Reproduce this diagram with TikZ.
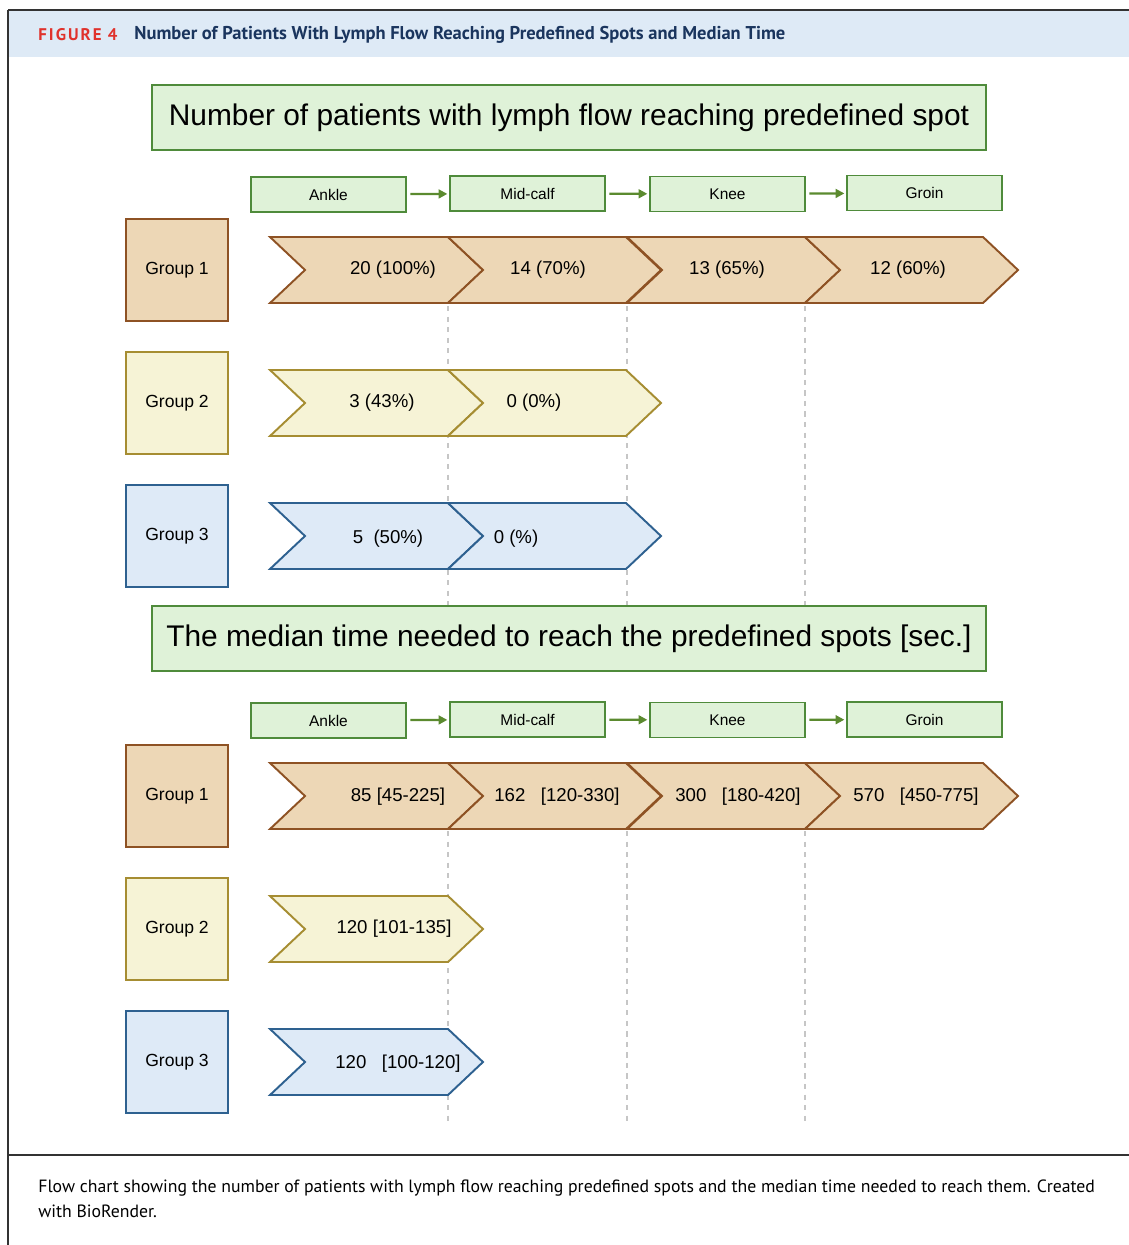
\documentclass[tikz,border=0pt]{standalone}
\usepackage{fontspec}
\setmainfont{Liberation Sans}
\newfontfamily\capfont{PT Sans}
\usetikzlibrary{positioning,arrows.meta}

\definecolor{tanfill}{HTML}{EDD7B6}
\definecolor{tanline}{HTML}{8E5224}
\definecolor{yelfill}{HTML}{F6F3D6}
\definecolor{yelline}{HTML}{A68D32}
\definecolor{blufill}{HTML}{DEEAF7}
\definecolor{bluline}{HTML}{2E6190}
\definecolor{grnfill}{HTML}{DFF2D8}
\definecolor{grnline}{HTML}{4F8B3B}
\definecolor{grnarrow}{HTML}{5B8A2F}
\definecolor{bandblue}{HTML}{DEEAF6}
\definecolor{figred}{HTML}{E0322C}
\definecolor{navy}{HTML}{1A355E}

\tikzset{
  titlebox/.style={draw=grnline, fill=grnfill, line width=1.1pt,
    minimum width=16.68cm, minimum height=1.3cm,
    font=\fontsize{17}{20}\selectfont},
  spotbox/.style={draw=grnline, fill=grnfill, line width=1pt,
    minimum width=3.1cm, minimum height=0.7cm,
    font=\fontsize{8.8}{10}\selectfont},
  groupbox/.style={line width=1.1pt, minimum width=2.04cm, minimum height=2.04cm,
    font=\fontsize{10}{12}\selectfont},
  tanstyle/.style={draw=tanline, fill=tanfill, line width=1.1pt},
  yelstyle/.style={draw=yelline, fill=yelfill, line width=1.1pt},
  blustyle/.style={draw=bluline, fill=blufill, line width=1.1pt},
  chevtext/.style={font=\fontsize{10.6}{12}\selectfont, inner sep=0pt},
  spotarrow/.style={-{Triangle[length=5pt,width=5pt]}, grnarrow, line width=1.3pt,
    shorten <=2pt, shorten >=1pt},
  guide/.style={gray!45, line width=0.8pt, dash pattern=on 3pt off 3pt}
}

% one segment of a chevron row: style, left x, mid y
\newcommand{\chevseg}[3]{%
  \draw[#1] (#2,#3-33) -- ++(178,0) -- ++(35,33) -- ++(-35,33) -- ++(-178,0) -- ++(35,-33) -- cycle;
}

\begin{document}
\begin{tikzpicture}[x=0.02cm, y=-0.02cm]
    \useasboundingbox (0,0) rectangle (1129,1245);

    % Header band and frame
    \fill[bandblue] (8,10) rectangle (1129,57);
    \draw[black!80, line width=1pt] (8,10) -- (1129,10);
    \draw[black!80, line width=1pt] (8,10) -- (8,1245);
    \draw[black!80, line width=1pt] (8,1155) -- (1129,1155);
    \node[anchor=west, inner sep=0pt, text=figred, font=\capfont\bfseries\fontsize{9.6}{11}\selectfont]
        (fig) at (38,35) {\addfontfeatures{LetterSpace=12}FIGURE 4};
    \node[anchor=west, inner sep=0pt, text=navy, font=\capfont\bfseries\fontsize{10.55}{12}\selectfont]
        (figtitle) at (134,35) {Number of Patients With Lymph Flow Reaching Predefined Spots and Median Time};

    % Guide lines
    \foreach \gx in {448,627,805} {
        \draw[guide] (\gx,306) -- (\gx,605);
        \draw[guide] (\gx,831) -- (\gx,1126);
    }

    % Upper part: number of patients
    \node[titlebox] (numtitle) at (569,117.5) {Number of patients with lymph flow reaching predefined spot};

    \node[spotbox] (ankA) at (328.5,194.5) {Ankle};
    \node[spotbox] (midA) at (527.5,193.5) {Mid-calf};
    \node[spotbox] (kneA) at (727.5,194) {Knee};
    \node[spotbox] (groA) at (924.5,193) {Groin};
    \draw[spotarrow] (ankA) -- (midA);
    \draw[spotarrow] (midA) -- (kneA);
    \draw[spotarrow] (kneA) -- (groA);

    \node[groupbox, tanstyle] (grpA1) at (177,270) {Group 1};
    \node[groupbox, yelstyle] (grpA2) at (177,403) {Group 2};
    \node[groupbox, blustyle] (grpA3) at (177,536) {Group 3};

    % Group 1 row
    \chevseg{tanstyle}{270}{270}
    \chevseg{tanstyle}{448}{270}
    \chevseg{tanstyle}{627}{270}
    \chevseg{tanstyle}{805}{270}
    \node[chevtext] (nA11) at (393,270) {20 (100\%)};
    \node[chevtext] (nA12) at (548,270) {14 (70\%)};
    \node[chevtext] (nA13) at (727,270) {13 (65\%)};
    \node[chevtext] (nA14) at (908,270) {12 (60\%)};

    % Group 2 row
    \chevseg{yelstyle}{270}{403}
    \chevseg{yelstyle}{448}{403}
    \node[chevtext] (nA21) at (382,403) {3 (43\%)};
    \node[chevtext] (nA22) at (534,403) {0 (0\%)};

    % Group 3 row
    \chevseg{blustyle}{270}{536}
    \chevseg{blustyle}{448}{536}
    \node[chevtext] (nA31) at (388,539) {5\ \ (50\%)};
    \node[chevtext] (nA32) at (516,539) {0 (\%)};

    % Lower part: median time
    \node[titlebox] (timetitle) at (569,638.5) {The median time needed to reach the predefined spots [sec.]};

    \node[spotbox] (ankB) at (328.5,720.5) {Ankle};
    \node[spotbox] (midB) at (527.5,719.5) {Mid-calf};
    \node[spotbox] (kneB) at (727.5,720) {Knee};
    \node[spotbox] (groB) at (924.5,719.5) {Groin};
    \draw[spotarrow] (ankB) -- (midB);
    \draw[spotarrow] (midB) -- (kneB);
    \draw[spotarrow] (kneB) -- (groB);

    \node[groupbox, tanstyle] (grpB1) at (177,796) {Group 1};
    \node[groupbox, yelstyle] (grpB2) at (177,929) {Group 2};
    \node[groupbox, blustyle] (grpB3) at (177,1062) {Group 3};

    % Group 1 row
    \chevseg{tanstyle}{270}{796}
    \chevseg{tanstyle}{448}{796}
    \chevseg{tanstyle}{627}{796}
    \chevseg{tanstyle}{805}{796}
    \node[chevtext] (tB11) at (398,797) {85 [45-225]};
    \node[chevtext] (tB12) at (557,797) {162\ \ \ [120-330]};
    \node[chevtext] (tB13) at (738,797) {300\ \ \ [180-420]};
    \node[chevtext] (tB14) at (916,797) {570\ \ \ [450-775]};

    % Group 2 and 3 rows
    \chevseg{yelstyle}{270}{929}
    \node[chevtext] (tB21) at (394,929) {120 [101-135]};
    \chevseg{blustyle}{270}{1062}
    \node[chevtext] (tB31) at (398,1064) {120\ \ \ [100-120]};

    % Caption
    \node[anchor=north west, inner sep=0pt, align=left,
          font=\capfont\fontsize{10.1}{14.7}\selectfont]
        (caption) at (38,1179) {Flow chart showing the number of patients with lymph flow reaching predefined spots and the median time needed to reach them. Created\\with BioRender.};
\end{tikzpicture}
\end{document}
